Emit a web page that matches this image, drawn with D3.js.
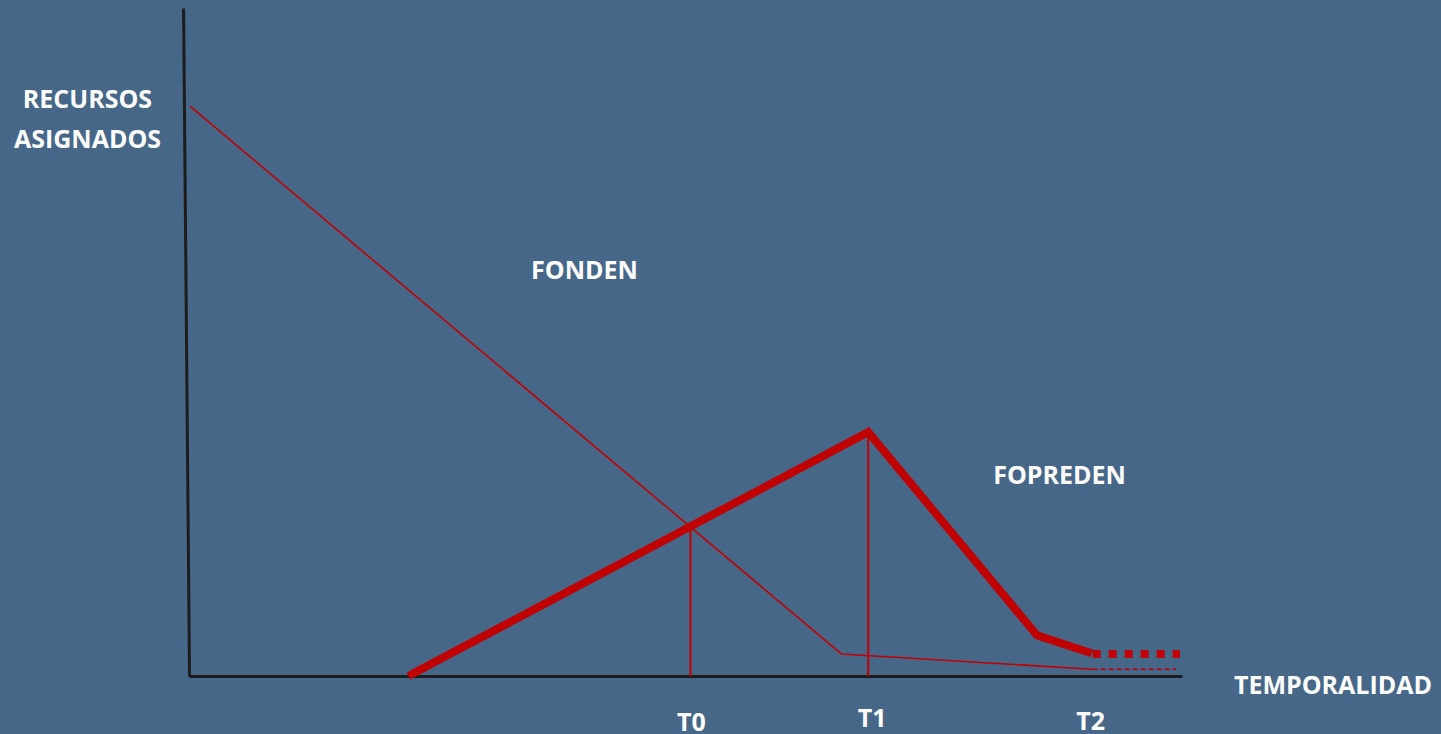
<!DOCTYPE html>
<html>
<head>
<meta charset="utf-8">
<script src="https://cdn.jsdelivr.net/npm/d3@7"></script>
<style>
  html, body { margin: 0; padding: 0; background: #476788; overflow: hidden; }
  svg { display: block; }
  text { font-family: "Open Sans", "Liberation Sans", sans-serif; font-weight: 700; fill: #ffffff; }
</style>
</head>
<body>
<svg id="chart" width="1441" height="734"></svg>
<script>
// ---- data (abstract units: time 0..100, resources 0..100) ----
const fondenTime = [0.1, 65.7, 91.0];
const fondenValue = [85.3, 3.3, 1.0];
const fondenTailTime = [91.0, 99.4];
const fondenTailValue = [1.0, 1.0];

const fopredenTime = [22.1, 68.4, 85.4, 90.9];
const fopredenValue = [0, 36.5, 6.1, 3.4];
const fopredenTailTime = [91.0, 99.8];
const fopredenTailValue = [3.3, 3.3];

const milestoneLabels = ["T0", "T1", "T2"];
const milestoneTime = [50.5, 68.4, 90.8];
const milestoneValue = [22.4, 36.5, null];

const yAxisTitle = ["RECURSOS", "ASIGNADOS"];
const xAxisTitle = "TEMPORALIDAD";
const seriesNames = ["FONDEN", "FOPREDEN"];

// ---- drawing ----
const svg = d3.select("#chart");
const W = 1441, H = 734;
svg.append("rect").attr("width", W).attr("height", H).attr("fill", "#476788");

const x = d3.scaleLinear().domain([0, 100]).range([189, 1182]);
const y = d3.scaleLinear().domain([0, 100]).range([676, 8]);

const red = "#C00000";
const axisColor = "#1c1c1c";

// Y axis (slightly slanted as in the original)
const yAxisG = svg.append("g")
  .attr("transform", `translate(${x(0)},${y(0)}) skewX(0.51) translate(0,${-y(0)})`)
  .call(d3.axisLeft(y).tickValues([]).tickSizeOuter(0));
yAxisG.select(".domain").attr("stroke", axisColor).attr("stroke-width", 3);

// X axis
const xAxisG = svg.append("g")
  .attr("transform", `translate(0,${y(0)})`)
  .call(d3.axisBottom(x).tickValues([]).tickSizeOuter(0));
xAxisG.select(".domain").attr("stroke", axisColor).attr("stroke-width", 3);

const line = d3.line().x(d => x(d[0])).y(d => y(d[1]));
const zip = (a, b) => a.map((v, i) => [v, b[i]]);

// Milestone verticals
milestoneTime.forEach((t, i) => {
  if (milestoneValue[i] == null) return;
  svg.append("path")
    .attr("d", line([[t, 0], [t, milestoneValue[i]]]))
    .attr("stroke", red).attr("stroke-width", 2).attr("fill", "none");
});

// FONDEN thin line
svg.append("path")
  .attr("d", line(zip(fondenTime, fondenValue)))
  .attr("stroke", red).attr("stroke-width", 1.6).attr("fill", "none");
svg.append("path")
  .attr("d", line(zip(fondenTailTime, fondenTailValue)))
  .attr("stroke", red).attr("stroke-width", 1.6).attr("fill", "none")
  .attr("stroke-dasharray", "5,3");

// FOPREDEN thick line
svg.append("path")
  .attr("d", line(zip(fopredenTime, fopredenValue)))
  .attr("stroke", red).attr("stroke-width", 8).attr("fill", "none")
  .attr("stroke-linejoin", "miter");
svg.append("path")
  .attr("d", line(zip(fopredenTailTime, fopredenTailValue)))
  .attr("stroke", red).attr("stroke-width", 8).attr("fill", "none")
  .attr("stroke-dasharray", "8,8");

// Text
const fs = 25;
svg.append("text").attr("x", 87.5).attr("y", 108).attr("text-anchor", "middle")
  .attr("font-size", fs).text(yAxisTitle[0]);
svg.append("text").attr("x", 87.5).attr("y", 148).attr("text-anchor", "middle")
  .attr("font-size", fs).text(yAxisTitle[1]);
svg.append("text").attr("x", 584.5).attr("y", 279).attr("text-anchor", "middle")
  .attr("font-size", fs).text(seriesNames[0]);
svg.append("text").attr("x", 1059.5).attr("y", 484).attr("text-anchor", "middle")
  .attr("font-size", fs).text(seriesNames[1]);
svg.append("text").attr("x", 1333).attr("y", 694).attr("text-anchor", "middle")
  .attr("font-size", fs).text(xAxisTitle);

const labelDx = [1, 4, 0];
const labelBase = [731, 727, 730];
milestoneLabels.forEach((lab, i) => {
  svg.append("text")
    .attr("x", x(milestoneTime[i]) + labelDx[i])
    .attr("y", labelBase[i])
    .attr("text-anchor", "middle")
    .attr("font-size", fs)
    .text(lab);
});
</script>
</body>
</html>
